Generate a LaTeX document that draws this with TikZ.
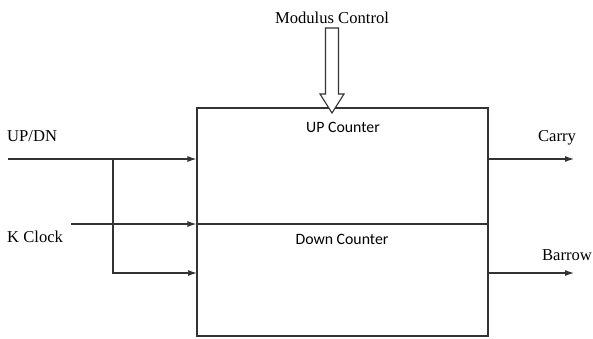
\documentclass[tikz,border=0pt]{standalone}
\usepackage{fontspec}
\setmainfont{Liberation Serif}
\newfontfamily\boxfont{Carlito}
\usetikzlibrary{arrows.meta}

\begin{document}
\begin{tikzpicture}[x=1pt,y=-1pt]
\tikzset{wire/.style={draw=black!80,line width=1.1pt}}
\tikzset{feed/.style={wire,-{Latex[length=9pt,width=6pt]}}}
\tikzset{lbl/.style={font=\fontsize{16.6}{18}\selectfont,inner sep=0pt}}
\tikzset{inside/.style={font=\boxfont\fontsize{15.8}{18}\selectfont,inner sep=0pt}}

\useasboundingbox (0,0) rectangle (593,338);

% counter block
\node[wire,minimum width=291pt,minimum height=228pt,inner sep=0pt] (counter) at (342.5,222) {};
\node[inside] (up) at (343,127) {UP Counter};
\node[inside] (down) at (342,239) {Down Counter};

% labels
\node[lbl] (modctl) at (332,18) {Modulus Control};
\node[lbl,anchor=west] (updnlbl) at (7,136) {UP/DN};
\node[lbl,anchor=west] (clklbl) at (7,237) {K Clock};
\node[lbl] (carrylbl) at (557,138) {Carry};
\node[lbl] (barrowlbl) at (567,255) {Barrow};

\coordinate (updn) at (8,159);
\coordinate (clk) at (71,224);
\coordinate (branch) at (113,159);
\coordinate (dnin) at (197,273);
\coordinate (carry) at (574,159);
\coordinate (barrow) at (574,273);

% inputs
\draw[feed] (updn) -- (counter.west |- updn);
\draw[feed] (branch) |- (dnin);
\draw[feed] (clk) -- (counter.west |- clk);
\draw[wire] (counter.west |- clk) -- (counter.east |- clk);

% outputs
\draw[feed] (counter.east |- carry) -- (carry);
\draw[feed] (counter.east |- barrow) -- (barrow);

% hollow arrow for modulus control
\draw[wire,fill=white] (325.5,28) -- (325.5,94) -- (320,94) -- (332,113)
  -- (344,94) -- (338.5,94) -- (338.5,28) -- cycle;

\end{tikzpicture}
\end{document}
